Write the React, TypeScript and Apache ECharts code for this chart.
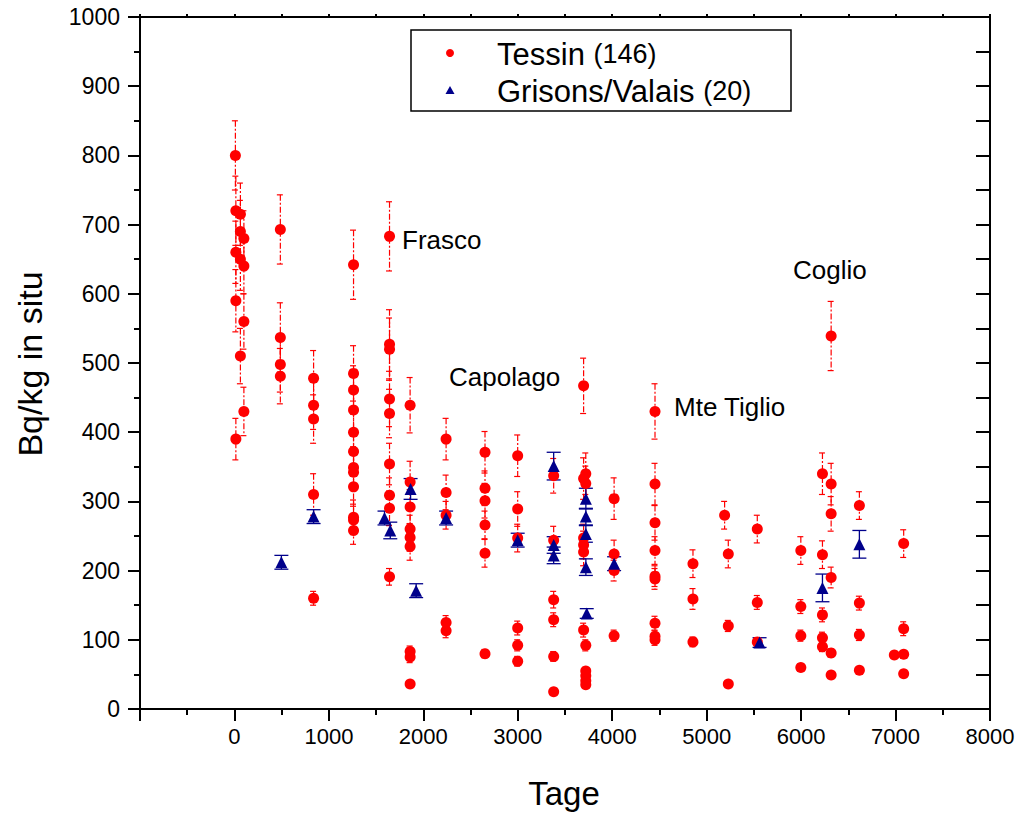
import React, { useEffect, useRef } from "react";
import * as echarts from "echarts";

// Tessin (146): days, Bq/kg, error
const tessinX = [
  10, 15, 63, 63, 100, 15, 63, 100, 15, 100, 63, 100, 15,
  486, 486, 486, 486,
  838, 838, 838, 838, 838,
  1261, 1261, 1261, 1261, 1261, 1261, 1261, 1261, 1261, 1261, 1261, 1261,
  1642, 1642, 1642, 1642, 1642, 1642, 1642, 1642, 1642,
  1860, 1860, 1860, 1860, 1860, 1860, 1860, 1860, 1860,
  2241, 2241, 2241, 2241, 2241,
  2653, 2653, 2653, 2653, 2653, 2653,
  2999, 2999, 2999, 2999, 2999, 2999,
  3380, 3380, 3380, 3380, 3380, 3380,
  3697, 3720, 3697, 3720, 3697, 3697, 3697, 3697, 3720, 3720, 3720, 3720, 3720,
  4020, 4020, 4020, 4020,
  4453, 4453, 4453, 4453, 4453, 4453, 4453, 4453, 4453,
  4855, 4855, 4855,
  5190, 5229, 5229, 5229,
  5536, 5536, 5536,
  5997, 5997, 5997, 5997,
  6226, 6226, 6226, 6226, 6226,
  6318, 6318, 6318, 6318, 6318, 6318,
  6617, 6617, 6617, 6617,
  6987,
  7086, 7086, 7086, 7086,
];
const tessinY = [
  800, 720, 715, 690, 680, 660, 650, 640, 590, 560, 510, 430, 390,
  693, 537, 498, 481,
  478, 439, 419, 310, 160,
  642, 485, 461, 432, 400, 372, 349, 342, 321, 277, 273, 258,
  683, 527, 520, 448, 427, 354, 309, 290, 191,
  439, 328, 292, 260, 248, 235, 83, 75, 36,
  390, 313, 280, 125, 113,
  371, 319, 301, 266, 225, 80,
  366, 289, 247, 117, 92, 69,
  337, 244, 158, 129, 76, 25,
  467, 340, 333, 326, 247, 237, 227, 114, 92, 55, 48, 41, 35,
  304, 224, 200, 106,
  430, 325, 269, 229, 192, 188, 124, 105, 100,
  210, 159, 97,
  280, 224, 120, 36,
  260, 154, 97,
  229, 148, 106, 60,
  340, 223, 136, 103, 90,
  539, 325, 282, 190, 81, 49,
  294, 153, 107, 56,
  78,
  239, 116, 79, 51,
];
const tessinErr = [
  50, 50, 45, 45, 40, 45, 45, 40, 45, 40, 40, 35, 30,
  50, 50, 40, 40,
  40, 35, 35, 30, 10,
  50, 40, 35, 35, 30, 30, 30, 25, 25, 25, 20, 20,
  50, 50, 45, 40, 35, 30, 25, 25, 12,
  40, 30, 25, 20, 20, 20, 8, 8, 4,
  30, 25, 20, 10, 10,
  30, 25, 25, 20, 20, 6,
  30, 25, 20, 10, 8, 7,
  25, 20, 12, 10, 7, 3,
  40, 30, 30, 25, 20, 20, 20, 10, 8, 5, 5, 4, 4,
  30, 20, 15, 8,
  40, 30, 25, 20, 15, 15, 10, 8, 8,
  20, 15, 7,
  20, 20, 8, 3,
  20, 10, 6,
  20, 10, 8, 5,
  30, 20, 10, 8, 7,
  50, 30, 25, 15, 6, 4,
  20, 10, 8, 4,
  4,
  20, 10, 5, 4,
];

// Grisons/Valais (20)
const grisonsX = [497, 838, 1589, 1650, 1865, 1924, 2241, 2999, 3380, 3380, 3380, 3721, 3721, 3721, 3721, 3730, 4020, 5560, 6226, 6617];
const grisonsY = [212, 278, 276, 258, 318, 171, 276, 244, 351, 237, 222, 304, 278, 253, 205, 138, 210, 96, 175, 238];
const grisonsErr = [10, 10, 10, 12, 15, 10, 10, 10, 20, 12, 12, 15, 12, 12, 12, 7, 10, 7, 20, 20];

const annotations = [
  { text: "Frasco", x: 402, y: 240 },
  { text: "Capolago", x: 449, y: 377 },
  { text: "Mte Tiglio", x: 674, y: 407 },
  { text: "Coglio", x: 793, y: 270 },
];

const RED = "#ff0000";
const BLUE = "#00008b";
const FONT = "'Liberation Sans', Arial, sans-serif";

function errSeries(name: string, data: number[][], color: string, dash: number[] | null, cap: number, lw: number) {
  return {
    type: "custom",
    name,
    z: 2,
    silent: true,
    data,
    renderItem: (_p: any, api: any) => {
      const x = api.value(0);
      const y = api.value(1);
      const e = api.value(2);
      const top = api.coord([x, y + e]);
      const bot = api.coord([x, y - e]);
      const style: any = { stroke: color, lineWidth: lw, fill: "none" };
      if (dash) style.lineDash = dash;
      return {
        type: "group",
        children: [
          { type: "line", shape: { x1: top[0], y1: top[1], x2: bot[0], y2: bot[1] }, style },
          { type: "line", shape: { x1: top[0] - cap, y1: top[1], x2: top[0] + cap, y2: top[1] }, style },
          { type: "line", shape: { x1: bot[0] - cap, y1: bot[1], x2: bot[0] + cap, y2: bot[1] }, style },
        ],
      };
    },
  };
}

export default function App() {
  const ref = useRef<HTMLDivElement>(null);
  useEffect(() => {
    if (!ref.current) return;
    const chart = echarts.init(ref.current, null, { renderer: "svg" });
    const tessin = tessinX.map((x, i) => [x, tessinY[i], tessinErr[i]]);
    const grisons = grisonsX.map((x, i) => [x, grisonsY[i], grisonsErr[i]]);
    const axisLine = { show: true, onZero: false, lineStyle: { color: "#000", width: 2 } };
    const tickStyle = { color: "#000", width: 2 };
    chart.setOption({
      animation: false,
      backgroundColor: "#fff",
      grid: { left: 140, right: 33, top: 17, bottom: 104, containLabel: false },
      xAxis: [
        {
          type: "value",
          min: -1000,
          max: 8000,
          interval: 1000,
          position: "bottom",
          axisLine,
          axisTick: { show: true, inside: false, length: 12, lineStyle: tickStyle },
          minorTick: { show: true, splitNumber: 2, length: 6, lineStyle: tickStyle },
          splitLine: { show: false },
          axisLabel: {
            margin: 16,
            color: "#000",
            fontSize: 22,
            fontFamily: FONT,
            formatter: (v: number) => (v < 0 ? "" : String(v)),
          },
        },
        {
          type: "value",
          min: -1000,
          max: 8000,
          interval: 1000,
          position: "top",
          axisLine,
          axisTick: { show: true, inside: false, length: 3, lineStyle: tickStyle },
          minorTick: { show: true, splitNumber: 2, length: 3, lineStyle: tickStyle },
          splitLine: { show: false },
          axisLabel: { show: false },
        },
      ],
      yAxis: [
        {
          type: "value",
          min: 0,
          max: 1000,
          interval: 100,
          position: "left",
          axisLine,
          axisTick: { show: true, inside: false, length: 12, lineStyle: tickStyle },
          minorTick: { show: true, splitNumber: 2, length: 6, lineStyle: tickStyle },
          splitLine: { show: false },
          axisLabel: {
            margin: 20,
            color: "#000",
            fontSize: 23,
            fontFamily: FONT,
            formatter: (v: number) => String(v),
          },
        },
        {
          type: "value",
          min: 0,
          max: 1000,
          interval: 100,
          position: "right",
          axisLine,
          axisTick: { show: true, inside: true, length: 14, lineStyle: tickStyle },
          minorTick: { show: true, splitNumber: 2, length: 14, lineStyle: tickStyle },
          splitLine: { show: false },
          axisLabel: { show: false },
        },
      ],
      series: [
        errSeries("tessinErr", tessin, RED, [6, 2, 2, 2], 3.5, 1.2),
        errSeries("grisonsErr", grisons, BLUE, null, 7, 1.3),
        {
          type: "scatter",
          name: "Tessin (146)",
          z: 3,
          symbol: "circle",
          symbolSize: 11,
          itemStyle: { color: RED, opacity: 1 },
          data: tessin.map((d) => [d[0], d[1]]),
        },
        {
          type: "scatter",
          name: "Grisons/Valais (20)",
          z: 4,
          symbol: "triangle",
          symbolSize: 12,
          itemStyle: { color: BLUE, opacity: 1 },
          data: grisons.map((d) => [d[0], d[1]]),
        },
      ],
      graphic: [
        {
          type: "rect",
          shape: { x: 411, y: 30, width: 380, height: 81 },
          style: { fill: "#fff", stroke: "#000", lineWidth: 1.5 },
          z: 10,
        },
        { type: "circle", shape: { cx: 450, cy: 53, r: 4 }, style: { fill: RED }, z: 11 },
        {
          type: "polygon",
          shape: { points: [[450, 86], [454.5, 94], [445.5, 94]] },
          style: { fill: BLUE },
          z: 11,
        },
        {
          type: "text",
          x: 497,
          y: 54,
          z: 11,
          style: {
            text: "{a|Tessin }{b|(146)}",
            verticalAlign: "middle",
            textVerticalAlign: "middle",
            fill: "#000",
            fontFamily: FONT,
            rich: {
              a: { fontSize: 31, fontFamily: FONT, fill: "#000" },
              b: { fontSize: 27, fontFamily: FONT, fill: "#000" },
            },
          },
        },
        {
          type: "text",
          x: 497,
          y: 91,
          z: 11,
          style: {
            text: "{a|Grisons/Valais }{b|(20)}",
            verticalAlign: "middle",
            textVerticalAlign: "middle",
            fill: "#000",
            fontFamily: FONT,
            rich: {
              a: { fontSize: 31, fontFamily: FONT, fill: "#000" },
              b: { fontSize: 27, fontFamily: FONT, fill: "#000" },
            },
          },
        },
        ...annotations.map((a) => ({
          type: "text",
          x: a.x,
          y: a.y,
          z: 11,
          style: {
            text: a.text,
            fontSize: 26,
            fontFamily: FONT,
            fill: "#000",
            verticalAlign: "middle",
            textVerticalAlign: "middle",
          },
        })),
        {
          type: "text",
          x: 564,
          y: 793,
          style: {
            text: "Tage",
            fontSize: 33,
            fontFamily: FONT,
            fill: "#000",
            align: "center",
            textAlign: "center",
            verticalAlign: "middle",
            textVerticalAlign: "middle",
          },
        },
        {
          type: "text",
          x: 30,
          y: 364,
          rotation: Math.PI / 2,
          style: {
            text: "Bq/kg in situ",
            fontSize: 34,
            fontFamily: FONT,
            fill: "#000",
            align: "center",
            textAlign: "center",
            verticalAlign: "middle",
            textVerticalAlign: "middle",
          },
        },
      ],
    });
    return () => chart.dispose();
  }, []);
  return (
    <div
      ref={ref}
      style={{ position: "absolute", left: 0, top: 0, width: 1023, height: 813 }}
    />
  );
}
